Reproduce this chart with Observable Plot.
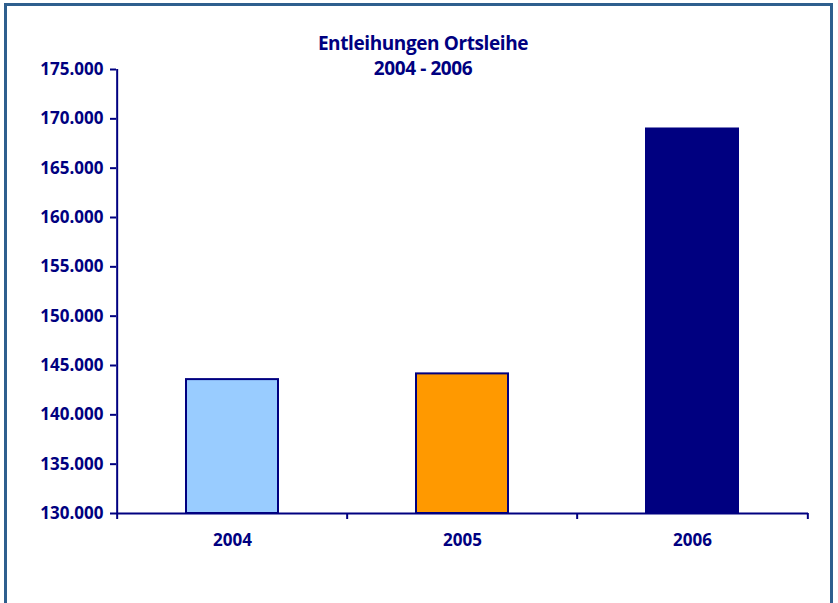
<!DOCTYPE html>
<html><head><meta charset="utf-8">
<script src="https://cdn.jsdelivr.net/npm/d3@7"></script>
<script src="https://cdn.jsdelivr.net/npm/@observablehq/plot@0.6"></script>
<style>
body{margin:0;background:#fff;font-family:"Open Sans",sans-serif;}
#wrap{position:relative;width:838px;height:603px;overflow:hidden;}
#frame{position:absolute;left:4px;top:3px;width:823px;height:640px;border:3px solid #2E5F8E;pointer-events:none;}
#title{position:absolute;left:0;width:846px;top:31px;text-align:center;color:#000080;font-weight:700;font-size:19px;line-height:25px;letter-spacing:-0.4px;}
#chart{position:absolute;left:0;top:0;}
</style></head>
<body>
<div id="wrap"><div id="chart"></div><div id="title">Entleihungen Ortsleihe<br>2004 - 2006</div><div id="frame"></div></div>
<script>
const categories = ["2004", "2005", "2006"];
const values = [143570, 144150, 168970];
const colors = ["#99CCFF", "#FF9900", "#000080"];
const yDomain = [130000, 175000];
const yTicks = [130000, 135000, 140000, 145000, 150000, 155000, 160000, 165000, 170000, 175000];

const data = categories.map((c, i) => ({year: c, value: values[i]}));
const fmt = d3.formatLocale({decimal: ",", thousands: ".", grouping: [3], currency: ["", "€"]}).format(",d");

const W = 838, H = 603, ML = 116, MR = 30, MT = 69, MB = 90;
const step = (W - ML - MR) / categories.length;
const navy = "#000080";

const plot = Plot.plot({
  width: W, height: H,
  marginLeft: ML, marginRight: MR, marginTop: MT, marginBottom: MB,
  style: {fontFamily: "'Open Sans', sans-serif", fontWeight: 700, fontSize: "17px", color: navy, background: "transparent"},
  x: {domain: categories, paddingInner: 0.6, paddingOuter: 0.3},
  y: {domain: yDomain},
  color: {domain: categories, range: colors},
  marks: [
    Plot.barY(data, {x: "year", y1: () => yDomain[0], y2: "value", fill: "year", stroke: navy, strokeWidth: 2}),
    Plot.ruleY([yDomain[0]], {stroke: navy, strokeWidth: 2}),
    Plot.ruleX([categories[0]], {dx: -step / 2, stroke: navy, strokeWidth: 2}),
    Plot.ruleX(categories, {x: d => d, y1: () => yDomain[0], y2: () => yDomain[0], insetBottom: -6, dx: -step / 2, stroke: navy, strokeWidth: 2}),
    Plot.ruleX([categories[categories.length - 1]], {x: d => d, y1: () => yDomain[0], y2: () => yDomain[0], insetBottom: -6, dx: step / 2, stroke: navy, strokeWidth: 2}),
    Plot.axisY({ticks: yTicks, tickFormat: fmt, tickSize: 6, tickPadding: 7, stroke: navy, strokeWidth: 2, fill: navy, fontSize: 17, fontWeight: 700, label: null}),
    Plot.axisX({tickSize: 0, tickPadding: 20, fill: navy, fontSize: 17, fontWeight: 700, label: null})
  ]
});
document.getElementById("chart").appendChild(plot);
</script>
</body></html>
